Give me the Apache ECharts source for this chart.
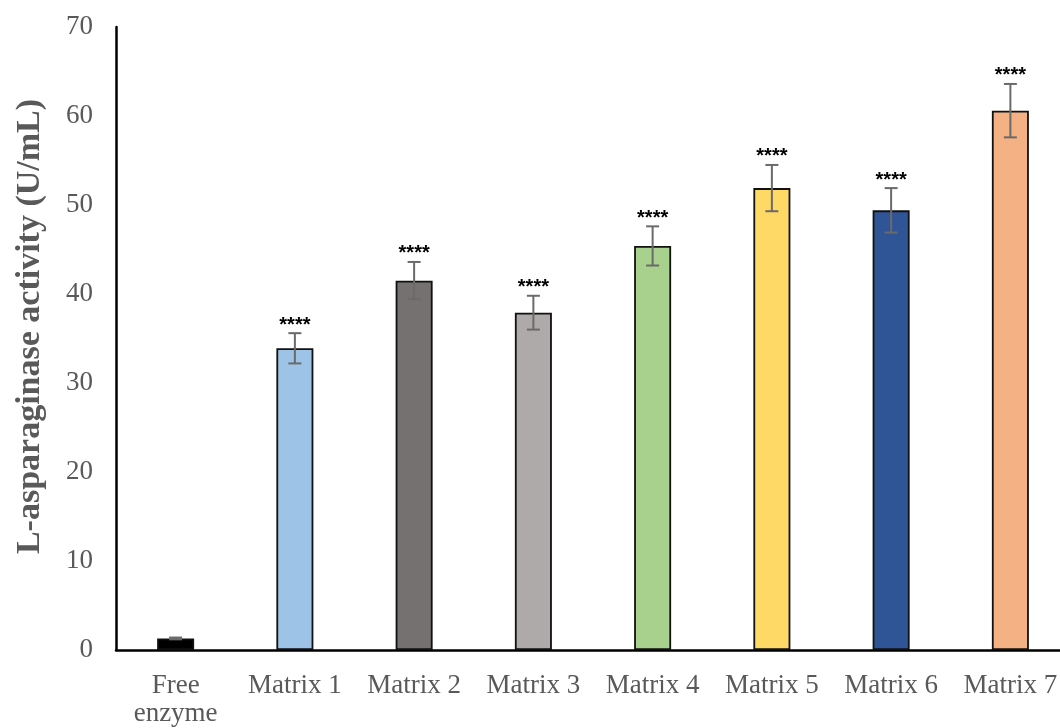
<!DOCTYPE html>
<html>
<head>
<meta charset="utf-8">
<script src="https://cdn.jsdelivr.net/npm/echarts@6/dist/echarts.min.js"></script>
<style>
  html, body { margin: 0; padding: 0; background: #ffffff; }
  #chart { width: 1060px; height: 728px; }
</style>
</head>
<body>
<div id="chart"></div>
<script>
// Groups on the x axis
const categories = ['Free\nenzyme', 'Matrix 1', 'Matrix 2', 'Matrix 3', 'Matrix 4', 'Matrix 5', 'Matrix 6', 'Matrix 7'];
// Mean L-asparaginase activity (U/mL)
const activity = [1.3, 33.9, 41.5, 37.9, 45.4, 51.9, 49.4, 60.6];
// Standard deviation of each mean
const errors = [0.1, 1.7, 2.1, 1.9, 2.2, 2.6, 2.5, 3.0];
// Significance markers versus free enzyme
const significance = ['', '****', '****', '****', '****', '****', '****', '****'];
// Bar fill colours
const barColors = ['#000000', '#9DC3E6', '#767171', '#AEAAAA', '#A9D18E', '#FFD966', '#2F5597', '#F4B183'];
// Y axis range
const yMin = 0, yMax = 70, yStep = 10;

const chart = echarts.init(document.getElementById('chart'));

const serifFont = '"Liberation Serif", "Times New Roman", serif';

chart.setOption({
  animation: false,
  backgroundColor: '#ffffff',
  grid: {
    left: 116, right: -10, top: 27, bottom: 78,
    containLabel: false,
    outerBoundsMode: 'none'
  },
  xAxis: {
    type: 'category',
    data: categories,
    axisLine: { show: true, lineStyle: { color: '#000000', width: 2.5 } },
    axisTick: { show: false },
    axisLabel: {
      color: '#595959',
      fontFamily: serifFont,
      fontSize: 27,
      lineHeight: 28,
      margin: 22,
      interval: 0
    }
  },
  yAxis: {
    type: 'value',
    min: yMin,
    max: yMax,
    interval: yStep,
    name: 'L-asparaginase activity (U/mL)',
    nameLocation: 'middle',
    nameGap: 69,
    nameTextStyle: {
      color: '#595959',
      fontFamily: serifFont,
      fontSize: 34,
      fontWeight: 'bold',
      padding: [0, 0, 0, 24]
    },
    axisLine: { show: true, lineStyle: { color: '#000000', width: 2.5 } },
    axisTick: { show: false },
    splitLine: { show: false },
    axisLabel: {
      color: '#595959',
      fontFamily: serifFont,
      fontSize: 27,
      margin: 23
    }
  },
  series: [
    {
      type: 'bar',
      barWidth: 37,
      data: activity.map((v, i) => ({
        value: v,
        itemStyle: { color: barColors[i], borderColor: '#111111', borderWidth: 1.8 }
      })),
      z: 2
    },
    {
      // Error bars with significance markers above them
      type: 'custom',
      z: 5,
      data: activity.map((v, i) => [i, v, errors[i], significance[i]]),
      renderItem: function (params, api) {
        const idx = api.value(0);
        const mean = api.value(1);
        const sd = api.value(2);
        const hi = api.coord([idx, mean + sd]);
        const lo = api.coord([idx, mean - sd]);
        const capHalf = 6.5;
        const stroke = { stroke: '#6A6A6A', lineWidth: 2 };
        const children = [
          { type: 'line', shape: { x1: hi[0], y1: hi[1], x2: lo[0], y2: lo[1] }, style: stroke },
          { type: 'line', shape: { x1: hi[0] - capHalf, y1: hi[1], x2: hi[0] + capHalf, y2: hi[1] }, style: stroke },
          { type: 'line', shape: { x1: lo[0] - capHalf, y1: lo[1], x2: lo[0] + capHalf, y2: lo[1] }, style: stroke }
        ];
        const mark = significance[params.dataIndex];
        if (mark) {
          children.push({
            type: 'text',
            style: {
              x: hi[0],
              y: hi[1] + 2,
              text: mark,
              align: 'center',
              verticalAlign: 'bottom',
              fill: '#000000',
              font: 'bold 20px "Liberation Sans", Arial, sans-serif'
            }
          });
        }
        return { type: 'group', children: children };
      }
    }
  ]
});
</script>
</body>
</html>
